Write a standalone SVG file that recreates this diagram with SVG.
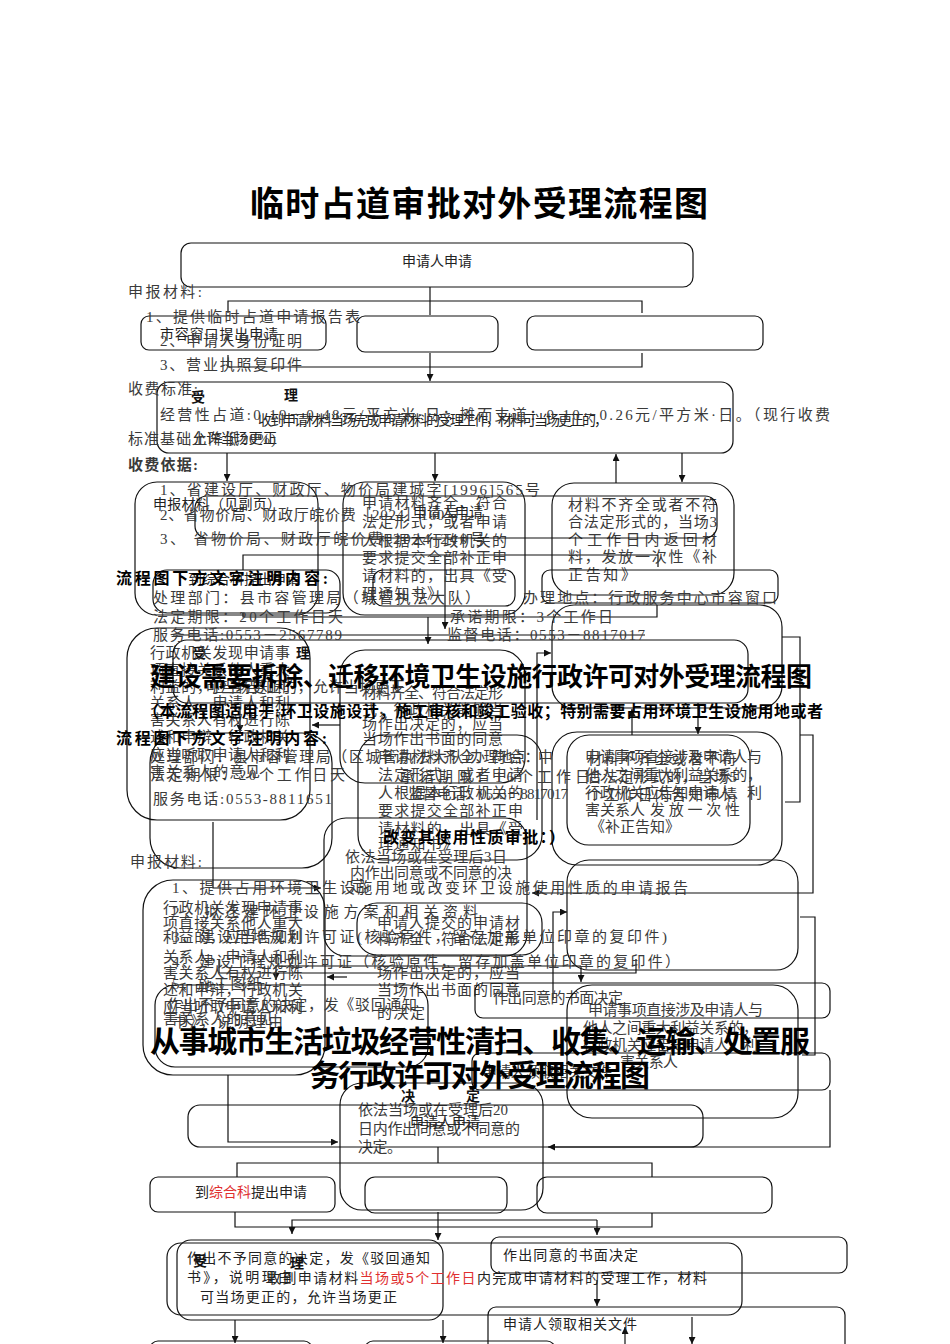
<svg xmlns="http://www.w3.org/2000/svg" width="950" height="1344" viewBox="0 0 950 1344">
<defs>
<marker id="ah" markerWidth="7" markerHeight="7" refX="7" refY="3.5" orient="auto" markerUnits="userSpaceOnUse"><path d="M0,0 L7,3.5 L0,7 z" fill="#111"/></marker>
<style>
.bx{fill:none;stroke:#111;stroke-width:1.2}
.ln{fill:none;stroke:#111;stroke-width:1.2}
.ar{fill:none;stroke:#111;stroke-width:1.2;marker-end:url(#ah)}
.d{font-family:"Liberation Serif","Noto Sans CJK SC",serif;font-size:15px;fill:#3a3a3a}
.n{font-family:"Liberation Sans","Noto Sans CJK SC",sans-serif;font-size:14px;fill:#222}
.k{font-family:"Liberation Sans","Noto Sans CJK SC",sans-serif;font-size:14px;font-weight:bold;fill:#111}
.h{font-family:"Liberation Serif","Noto Sans CJK SC",serif;font-weight:bold;fill:#000}
.r{fill:#e03030}
</style>
</defs>
<rect width="950" height="1344" fill="#fff"/>

<g id="connectors">
<path class="ln" d="M430,287 V315"/>
<path class="ln" d="M228,313 V301 H642 V313"/>
<path class="ln" d="M228,355 V367 H642 V353"/>
<path class="ar" d="M430,353 V381"/>
<path class="ar" d="M227,453 V481"/>
<path class="ar" d="M435,453 V481"/>
<path class="ar" d="M616,483 V454"/>
<path class="ar" d="M682,453 V482"/>
<path class="ln" d="M243,570 V555 H658 V567"/>
<path class="ar" d="M445,555 V629"/>
<path class="ln" d="M243,613 V617 H657 V605"/>
<path class="ar" d="M428,617 V644"/>
<path class="ln" d="M173,635 H645"/>
<path class="ar" d="M537,820 V653 H551"/>
<path class="ar" d="M340,725 H312"/>
<path class="ar" d="M240,708 V732"/>
<path class="ar" d="M632,735 V709"/>
<path class="ar" d="M698,703 V734"/>
<path class="ln" d="M782,637 H800 V802 H785"/>
<path class="ar" d="M800,735 H813 V893 H532"/>
<path class="ar" d="M213,822 V888 H321"/>
<path class="ln" d="M219,959 V973 H636 V959"/>
<path class="ar" d="M581,966 H276 V980"/>
<path class="ar" d="M581,966 V982"/>
<path class="ar" d="M553,1000 V912 H567"/>
<path class="ln" d="M800,917 H815 V1055 H802"/>
<path class="ar" d="M347,977 H327"/>
<path class="ar" d="M228,1075 V1142 H338"/>
<path class="ar" d="M830,1090 V1147 H548"/>
<path class="ln" d="M438,1147 V1163"/>
<path class="ln" d="M237,1177 V1163 H652 V1177"/>
<path class="ln" d="M235,1212 V1227 H652 V1213"/>
<path class="ar" d="M597,1220 H292 V1234"/>
<path class="ar" d="M597,1220 V1235"/>
<path class="ar" d="M438,1212 V1240"/>
<path class="ar" d="M597,1280 V1306"/>
<path class="ar" d="M625,1344 V1327"/>
<path class="ar" d="M692,1317 V1344"/>
<path class="ar" d="M235,1320 V1343"/>
<path class="ar" d="M443,1320 V1343"/>
</g>

<g id="n1-apply"><rect class="bx" x="181" y="243" width="512" height="44" rx="10"/><text class="n" x="437" y="266" text-anchor="middle">申请人申请</text></g>
<g id="n1-window"><rect class="bx" x="141" y="316" width="185" height="34" rx="8"/><text class="n" x="160" y="339" textLength="118">市容窗口提出申请</text></g>
<g id="n1-mid"><rect class="bx" x="357" y="316" width="141" height="36" rx="8"/></g>
<g id="n1-right"><rect class="bx" x="527" y="316" width="236" height="34" rx="8"/></g>
<g id="n1-accept"><rect class="bx" x="157" y="382" width="576" height="71" rx="12"/>
<text class="k" x="191" y="402">受</text><text class="k" x="284" y="400">理</text>
<text class="n" x="258" y="425" font-size="13" textLength="350">收到申请材料当场完成申请材料的受理工作，材料可当场更正的，</text>
<text class="n" x="192" y="443" font-size="13" textLength="85">允许当场更正</text></g>
<g id="n1-materials"><rect class="bx" x="135" y="482" width="183" height="133" rx="22"/><text class="n" x="153" y="509" textLength="128">申报材料（见副页）</text></g>
<g id="n1-ok"><rect class="bx" x="343" y="482" width="182" height="133" rx="22"/>
<text class="d" x="362" y="508" textLength="145">申请材料齐全、符合</text>
<text class="d" x="362" y="527" textLength="145">法定形式，或者申请</text>
<text class="d" x="362" y="546" textLength="145">人根据本行政机关的</text>
<text class="d" x="362" y="563" textLength="145">要求提交全部补正申</text>
<text class="d" x="362" y="581" textLength="145">请材料的，出具《受</text>
<text class="d" x="362" y="599" textLength="80">理通知书》</text></g>
<g id="n1-notok"><rect class="bx" x="552" y="483" width="182" height="112" rx="22"/>
<text class="d" x="568" y="510" textLength="149">材料不齐全或者不符</text>
<text class="d" x="568" y="527" textLength="149">合法定形式的，当场3</text>
<text class="d" x="568" y="545" textLength="149">个工作日内返回材</text>
<text class="d" x="568" y="562" textLength="149">料，发放一次性《补</text>
<text class="d" x="568" y="580" textLength="68">正告知》</text></g>
<g id="n1-flag"><rect class="bx" x="195" y="496" width="522" height="42" rx="12"/></g>
<g id="n1-b1"><rect class="bx" x="153" y="570" width="187" height="43" rx="14"/><text class="n" x="188" y="584" fill="#555">到综合科提出申请</text></g>
<g id="n1-b2"><rect class="bx" x="373" y="570" width="142" height="36" rx="10"/></g>
<g id="n1-b3"><rect class="bx" x="542" y="570" width="236" height="33" rx="8"/></g>
<text class="n" x="413" y="517">申请人申请</text>

<g id="n2-a"><rect class="bx" x="552" y="605" width="230" height="103" rx="22"/></g>
<g id="n2-accept"><rect class="bx" x="127" y="628" width="183" height="192" rx="30"/>
<text class="k" x="192" y="658">受</text><text class="k" x="296" y="658">理</text>
<text class="d" x="150" y="658" textLength="140">行政机关发现申请事</text>
<text class="d" x="150" y="675" textLength="140">项直接关系他人重大</text>
<text class="d" x="150" y="692" textLength="140">利益的，应当告知利</text>
<text class="d" x="150" y="708" textLength="140">关系人，申请人和利</text>
<text class="d" x="150" y="725" textLength="140">害关系人有权进行陈</text>
<text class="d" x="150" y="742" textLength="140">述和申辩，行政机关</text>
<text class="d" x="150" y="760" textLength="140">应当听取申请人和利</text>
<text class="d" x="150" y="777" textLength="110">害关系人的意见</text>
<text class="d" x="205" y="692" textLength="200">可当场更正的，允许当场更正</text></g>
<g id="n2-flag"><rect class="bx" x="173" y="640" width="575" height="63" rx="14"/></g>
<g id="n2-decide"><rect class="bx" x="340" y="650" width="185" height="133" rx="25"/>
<text class="d" x="362" y="698" textLength="141">材料齐全、符合法定形</text>
<text class="d" x="362" y="715" textLength="141">式，行政机关能够当</text>
<text class="d" x="362" y="729" textLength="141">场作出决定的，应当</text>
<text class="d" x="362" y="744" textLength="141">当场作出书面的同意</text></g>
<g id="n2-c"><rect class="bx" x="150" y="733" width="182" height="135" rx="30"/></g>
<g id="n2-ok"><rect class="bx" x="358" y="735" width="184" height="125" rx="25"/>
<text class="d" x="378" y="762" textLength="145">申请材料齐全、符合</text>
<text class="d" x="378" y="780" textLength="145">法定形式，或者申请</text>
<text class="d" x="378" y="798" textLength="145">人根据本行政机关的</text>
<text class="d" x="378" y="816" textLength="145">要求提交全部补正申</text>
<text class="d" x="378" y="834" textLength="145">请材料的，出具《受</text>
<text class="d" x="378" y="849" textLength="80">理通知书》</text></g>
<g id="n2-notok"><rect class="bx" x="552" y="732" width="230" height="133" rx="25"/><rect class="bx" x="567" y="735" width="183" height="110" rx="22"/>
<text class="d" x="585" y="762" textLength="177">申请事项直接涉及申请人与</text>
<text class="d" x="587" y="764" textLength="150">材料不齐全或者不符</text>
<text class="d" x="585" y="780" textLength="177">他人之间重大利益关系的，</text>
<text class="d" x="587" y="782" textLength="150">合法定形式的，当场5</text>
<text class="d" x="585" y="798" textLength="177">行政机关应告知申请人、利</text>
<text class="d" x="587" y="800" textLength="150">个工作日内告知申请</text>
<text class="d" x="585" y="815" textLength="60">害关系人</text>
<text class="d" x="650" y="815" textLength="90">发放一次性</text>
<text class="d" x="590" y="832" textLength="90">《补正告知》</text></g>

<g id="m-decide"><rect class="bx" x="324" y="818" width="203" height="138" rx="22"/>
<text class="d" x="345" y="862" textLength="162">依法当场或在受理后3日</text>
<text class="d" x="350" y="878" textLength="162">内作出同意或不同意的决</text>
<text class="d" x="350" y="891" textLength="28">定。</text></g>
<g id="m-accept-outer"><rect class="bx" x="143" y="880" width="182" height="195" rx="30"/>
<text class="d" x="163" y="913" textLength="140">行政机关发现申请事</text>
<text class="d" x="163" y="928" textLength="140">项直接关系他人重大</text>
<text class="d" x="163" y="942" textLength="140">利益的，应当告知利</text>
<text class="d" x="163" y="962" textLength="140">关系人，申请人和利</text>
<text class="d" x="163" y="978" textLength="140">害关系人有权进行陈</text>
<text class="d" x="163" y="995" textLength="140">述和申辩，行政机关</text>
<text class="d" x="163" y="1012" textLength="140">应当听取申请人和利</text>
<text class="d" x="163" y="1024" textLength="110">害关系人的意见</text></g>
<g id="m-ok"><rect class="bx" x="357" y="903" width="185" height="52" rx="20"/>
<text class="d" x="377" y="928" textLength="143">申请人提交的申请材</text>
<text class="d" x="377" y="944" textLength="143">料齐全、符合法定形</text>
<text class="d" x="377" y="978" textLength="143">场作出决定的，应当</text>
<text class="d" x="377" y="995" textLength="143">当场作出书面的同意</text></g>
<g id="m-accept"><rect class="bx" x="155" y="985" width="273" height="82" rx="20"/>
<text class="d" x="167" y="1010" textLength="250">作出不予同意的决定，发《驳回通知</text>
<text class="d" x="173" y="1027" textLength="110">书》，说明理由</text>
<text class="d" x="377" y="1018" textLength="48">的决定</text></g>
<g id="m-right"><rect class="bx" x="567" y="860" width="231" height="110" rx="22"/></g>
<g id="m-agree"><rect class="bx" x="475" y="983" width="355" height="35" rx="8"/><text class="d" x="493" y="1003" textLength="130">作出同意的书面决定</text></g>
<g id="m-relate"><rect class="bx" x="567" y="985" width="231" height="133" rx="25"/>
<text class="d" x="588" y="1015" textLength="175">申请事项直接涉及申请人与</text>
<text class="d" x="583" y="1033" textLength="175">他人之间重大利益关系的，</text>
<text class="d" x="583" y="1050" textLength="175">行政机关应告知申请人、利</text>
<text class="d" x="620" y="1067" textLength="58">害关系人</text></g>
<g id="m-fetch"><rect class="bx" x="472" y="1053" width="358" height="37" rx="8"/><text class="d" x="482" y="1077" textLength="130">申请人领取相关文件</text></g>

<g id="b-decide"><rect class="bx" x="340" y="1083" width="203" height="127" rx="22"/>
<text class="k" x="401" y="1101">决</text><text class="k" x="466" y="1101">定</text>
<text class="d" x="358" y="1115" textLength="150">依法当场或在受理后20</text>
<text class="d" x="358" y="1134" textLength="162">日内作出同意或不同意的</text>
<text class="d" x="358" y="1152" textLength="44">决定。</text></g>
<g id="b-apply"><rect class="bx" x="188" y="1105" width="515" height="42" rx="12"/><text class="n" x="410" y="1127">申请人申请</text></g>
<g id="b-window"><rect class="bx" x="150" y="1177" width="185" height="35" rx="8"/><text class="n" x="195" y="1197" font-size="11">到<tspan class="r">综合科</tspan>提出申请</text></g>
<g id="b-mid"><rect class="bx" x="365" y="1177" width="142" height="36" rx="10"/></g>
<g id="b-right"><rect class="bx" x="537" y="1177" width="235" height="36" rx="10"/></g>
<g id="b-accept"><rect class="bx" x="177" y="1240" width="266" height="80" rx="14"/><rect class="bx" x="167" y="1243" width="575" height="72" rx="14"/>
<text class="n" x="187" y="1263" textLength="243">作出不予同意的决定，发《驳回通知</text>
<text class="n" x="187" y="1282" textLength="105">书》，说明理由</text>
<text class="k" x="193" y="1266">受</text><text class="k" x="290" y="1268">理</text>
<text class="n" x="267" y="1283" textLength="440">收到申请材料<tspan class="r">当场或5个工作日</tspan>内完成申请材料的受理工作，材料</text>
<text class="n" x="200" y="1302" textLength="197">可当场更正的，允许当场更正</text></g>
<g id="b-agree"><rect class="bx" x="491" y="1237" width="356" height="36" rx="8"/><text class="n" x="503" y="1260" textLength="135">作出同意的书面决定</text></g>
<g id="b-fetch"><rect class="bx" x="488" y="1307" width="357" height="45" rx="8"/><text class="n" x="503" y="1329" textLength="134">申请人领取相关文件</text></g>
<g id="b-end1"><rect class="bx" x="150" y="1341" width="162" height="20" rx="8"/></g>
<g id="b-end2"><rect class="bx" x="365" y="1341" width="190" height="20" rx="8"/></g>

<g id="doc1">
<text class="d" x="128" y="297" textLength="74">申报材料:</text>
<text class="d" x="146" y="322" textLength="214">1、提供临时占道申请报告表</text>
<text class="d" x="160" y="346" textLength="142">2、申请人身份证明</text>
<text class="d" x="160" y="370" textLength="142">3、营业执照复印件</text>
<text class="d" x="128" y="394" textLength="70">收费标准:</text>
<text class="d" x="160" y="420" textLength="670">经营性占道:0.19－0.48元/平方米·日；摊而支道：0.10－0.26元/平方米·日。（现行收费</text>
<text class="d" x="128" y="444" textLength="148">标准基础上降低20%)</text>
<text class="d" x="128" y="470" textLength="70" font-weight="bold" fill="#000">收费依据:</text>
<text class="d" x="160" y="495" textLength="380">1、省建设厅、财政厅、物价局建城字[1996]565号</text>
<text class="d" x="160" y="520" textLength="300">2、省物价局、财政厅皖价费［2024］160号</text>
<text class="d" x="160" y="544" textLength="325">3、 省物价局、财政厅皖价费[2024]240号</text>
<text class="h" x="116" y="584" font-size="16" textLength="212">流程图下方文字注明内容:</text>
<text class="d" x="153" y="603" textLength="327">处理部门：县市容管理局（城管执法大队）</text>
<text class="d" x="523" y="603" textLength="254">办理地点：行政服务中心市容窗口</text>
<text class="d" x="153" y="622" textLength="190">法定期限：20个工作日天</text>
<text class="d" x="450" y="622" textLength="163">承诺期限：3个工作日</text>
<text class="d" x="153" y="640" textLength="189">服务电话:0553－2567789</text>
<text class="d" x="447" y="640" textLength="198">监督电话：0553－8817017</text>
</g>
<g id="doc2">
<text class="h" x="116" y="744" font-size="16" textLength="211">流程图下方文字注明内容:</text>
<text class="d" x="150" y="762" textLength="330">处理部门：县市容管理局（区城管执法大队）</text>
<text class="d" x="470" y="762" textLength="83">办理地点：中</text>
<text class="d" x="150" y="780" textLength="195">法定期限：20个工作日天</text>
<text class="d" x="400" y="782" textLength="190">承诺期限：16个工作日</text>
<text class="d" x="408" y="799" textLength="160">监督电话：0553－8817017</text>
<text class="d" x="153" y="804" textLength="179" fill="#222">服务电话:0553-8811651</text>
<text class="h" x="383" y="843" font-size="16" textLength="182">改变其使用性质审批：）</text>
<text class="d" x="130" y="867" textLength="72">申报材料:</text>
<text class="d" x="172" y="893" textLength="516">1、提供占用环境卫生设施用地或改变环卫设施使用性质的申请报告</text>
<text class="d" x="172" y="917" textLength="306">2、拟迁建环卫设施方案和相关资料</text>
<text class="d" x="172" y="942" textLength="495">3、建设用地规划许可证(核验原件，留存加盖单位印章的复印件)</text>
<text class="d" x="172" y="967" textLength="508">4、建设工程规划许可证（核验原件，留存加盖单位印章的复印件）</text>
<text class="d" x="172" y="989" textLength="90">5、施工图纸</text>
</g>

<g id="titles">
<text class="h" x="479" y="216" font-size="34" text-anchor="middle" textLength="458">临时占道审批对外受理流程图</text>
<text class="h" x="150" y="686" font-size="26" textLength="662">建设需要拆除、迁移环境卫生设施行政许可对外受理流程图</text>
<text class="h" x="143" y="717" font-size="16" textLength="680">（本流程图适用于:环卫设施设计，施工审核和竣工验收；特别需要占用环境卫生设施用地或者</text>
<text class="h" x="150" y="1052" font-size="30" textLength="660">从事城市生活垃圾经营性清扫、收集、运输、处置服</text>
<text class="h" x="310" y="1086" font-size="30" textLength="340">务行政许可对外受理流程图</text>
</g>
</svg>
